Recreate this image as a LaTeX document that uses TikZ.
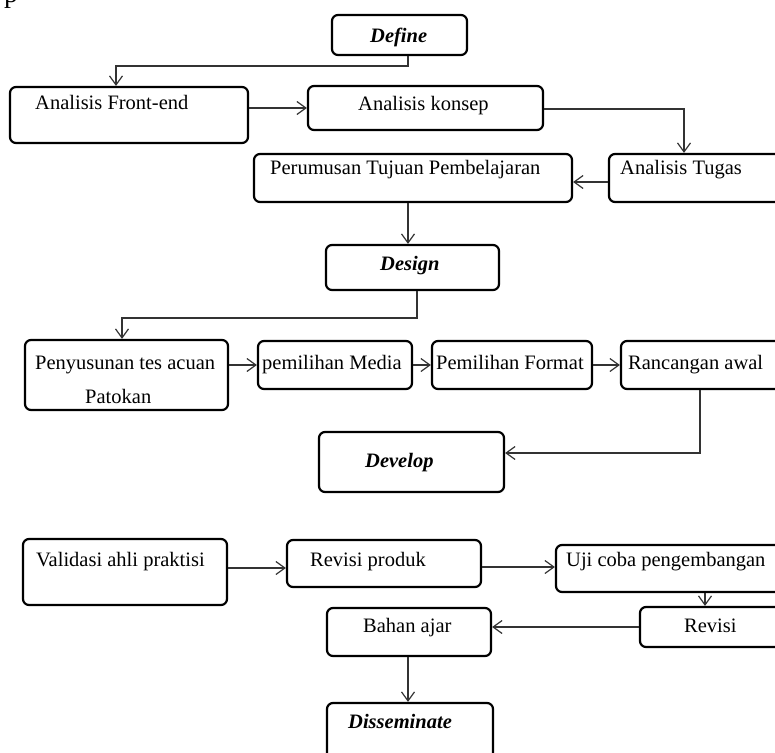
\documentclass[tikz,border=0pt]{standalone}
\usepackage{fontspec}
\setmainfont{Liberation Serif}
\usetikzlibrary{arrows.meta}
\newcommand\mybox[5]{\node[box, minimum width=#4pt-#2pt, minimum height=#5pt-#3pt] (#1) at ({(#2+#4)/2},{(#3+#5)/2}) {};}
\begin{document}
\begin{tikzpicture}[x=1pt,y=-1pt,
  box/.style={draw=black, line width=2.2pt, rounded corners=6pt, inner sep=0pt, outer sep=1.1pt},
  txt/.style={anchor=base west, inner sep=0pt, font=\fontsize{20.5}{24}\selectfont},
  ttl/.style={anchor=base west, inner sep=0pt, font=\fontsize{20.5}{24}\selectfont\bfseries\itshape},
  conn/.style={draw=black!80, line width=1.2pt, -{Straight Barb[length=9pt,width=13pt]}},
  plain/.style={draw=black!80, line width=1.2pt}]
\useasboundingbox (0,0) rectangle (775,752);
\node[anchor=base west, inner sep=0pt, font=\fontsize{28}{30}\selectfont] (frag) at (4,3) {p};
% boxes
\mybox{def}{332}{15}{467}{55}
\mybox{afe}{10}{87}{248}{143}
\mybox{ak}{308}{86}{543}{130}
\mybox{at}{609}{154}{810}{202}
\mybox{ptp}{254}{154}{572}{202}
\mybox{des}{326}{245}{499}{290}
\mybox{pen}{25}{340}{228}{410}
\mybox{pm}{258}{341}{412}{389}
\mybox{pf}{432}{341}{592}{389}
\mybox{ra}{621}{341}{810}{389}
\mybox{dev}{319}{432}{504}{492}
\mybox{val}{23}{539}{227}{605}
\mybox{rp}{287}{540}{481}{587}
\mybox{uji}{556}{545}{810}{592}
\mybox{rev}{640}{607}{810}{647}
\mybox{ba}{327}{608}{491}{656}
\mybox{dis}{327}{703}{493}{770}
% texts
\node[ttl] (t-def) at (370,42) {Define};
\node[txt] (t-afe) at (35,109) {Analisis Front-end};
\node[txt] (t-ak) at (358,110) {Analisis konsep};
\node[txt] (t-at) at (620,174) {Analisis Tugas};
\node[txt] (t-ptp) at (270,174) {Perumusan Tujuan Pembelajaran};
\node[ttl] (t-des) at (380,270) {Design};
\node[txt] (t-pen) at (35,369) {Penyusunan tes acuan};
\node[txt] (t-pat) at (85,403) {Patokan};
\node[txt] (t-pm) at (262,369) {pemilihan Media};
\node[txt] (t-pf) at (436,369) {Pemilihan Format};
\node[txt] (t-ra) at (628,369) {Rancangan awal};
\node[ttl] (t-dev) at (365,467) {Develop};
\node[txt] (t-val) at (36,566) {Validasi ahli praktisi};
\node[txt] (t-rp) at (310,566) {Revisi produk};
\node[txt] (t-uji) at (566,566) {Uji coba pengembangan};
\node[txt] (t-rev) at (684,632) {Revisi};
\node[txt] (t-ba) at (363,632) {Bahan ajar};
\node[ttl] (t-dis) at (348,728) {Disseminate};
% connectors
\coordinate (k1) at (408,66);
\coordinate (k2) at (417,318);
\coordinate (k3) at (700,453);
\draw[conn] (def.south -| k1) -- (k1) -| (afe.north -| 116,0);
\draw[conn] (afe.east |- 0,108) -- (ak.west |- 0,108);
\draw[conn] (ak.east |- 0,109) -| (at.north -| 684,0);
\draw[conn] (at.west |- 0,182) -- (ptp.east |- 0,182);
\draw[conn] (ptp.south -| 408,0) -- (des.north -| 408,0);
\draw[conn] (des.south -| k2) -- (k2) -| (pen.north -| 122,0);
\draw[conn] (pen.east |- 0,365) -- (pm.west |- 0,365);
\draw[conn] (pm.east |- 0,365) -- (pf.west |- 0,365);
\draw[conn] (pf.east |- 0,365) -- (ra.west |- 0,365);
\draw[conn] (ra.south -| k3) -- (k3) -- (dev.east |- k3);
\draw[conn] (val.east |- 0,568) -- (rp.west |- 0,568);
\draw[conn] (rp.east |- 0,567) -- (uji.west |- 0,567);
\draw[conn] (uji.south -| 705,0) -- (rev.north -| 705,0);
\draw[conn] (rev.west |- 0,627) -- (ba.east |- 0,627);
\draw[conn] (ba.south -| 408,0) -- (dis.north -| 408,0);
\end{tikzpicture}
\end{document}
